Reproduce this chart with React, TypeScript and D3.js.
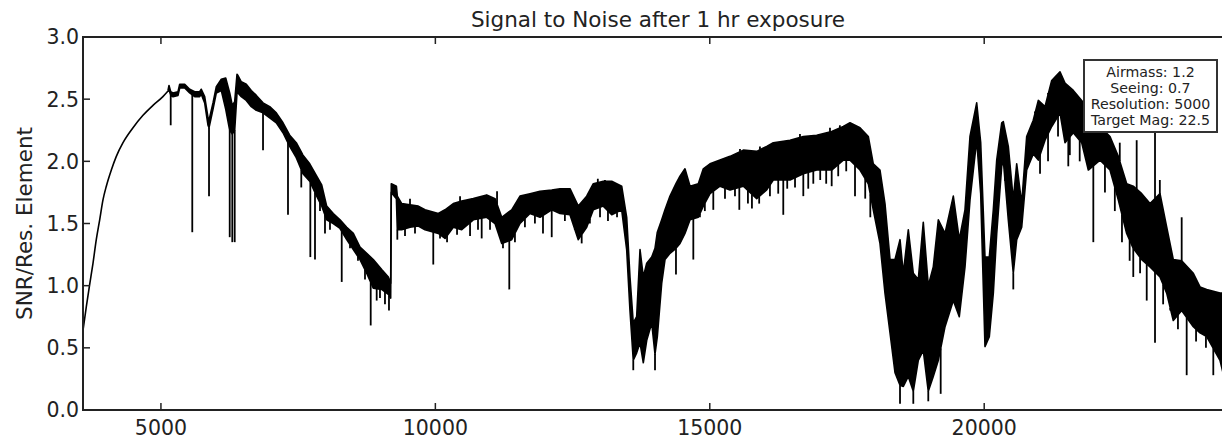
import React from 'react';
import * as d3 from 'd3';

// Smooth blue-end rise: [wavelength, SNR]
const rise: [number, number][] = [
  [3580, 0.64], [3640, 0.83], [3702, 1.01], [3762, 1.18], [3822, 1.37], [3884, 1.53],
  [3944, 1.69], [4005, 1.80], [4096, 1.93], [4187, 2.04], [4309, 2.15], [4491, 2.27],
  [4673, 2.37], [4855, 2.45], [5036, 2.52], [5129, 2.565],
];

// Spectrum envelope: [wavelength, upper SNR, lower SNR]
const envelope: [number, number, number][] = [
  [5129, 2.57, 2.56], [5147, 2.61, 2.58],
  [5178, 2.56, 2.53], [5220, 2.55, 2.52], [5311, 2.56, 2.53], [5342, 2.62, 2.59],
  [5433, 2.62, 2.59], [5524, 2.58, 2.55], [5615, 2.56, 2.52], [5706, 2.56, 2.52],
  [5735, 2.58, 2.54], [5797, 2.52, 2.47], [5858, 2.35, 2.29], [5876, 2.33, 2.27],
  [5949, 2.47, 2.42], [6009, 2.60, 2.55], [6100, 2.66, 2.57], [6180, 2.67, 2.42],
  [6253, 2.55, 2.25], [6300, 2.45, 2.22], [6344, 2.48, 2.25], [6386, 2.70, 2.55],
  [6404, 2.69, 2.55], [6464, 2.64, 2.52], [6555, 2.62, 2.49], [6646, 2.57, 2.44],
  [6738, 2.53, 2.41], [6860, 2.47, 2.39], [6982, 2.44, 2.35], [7102, 2.39, 2.31],
  [7224, 2.31, 2.23], [7346, 2.21, 2.12], [7466, 2.15, 2.03], [7588, 2.05, 1.90],
  [7711, 1.98, 1.84], [7838, 1.88, 1.72], [7929, 1.81, 1.64], [8020, 1.64, 1.53],
  [8140, 1.58, 1.50], [8263, 1.53, 1.46], [8385, 1.47, 1.37], [8505, 1.42, 1.29],
  [8627, 1.31, 1.21], [8749, 1.26, 1.10], [8869, 1.21, 0.98], [9022, 1.13, 0.97],
  [9143, 1.07, 0.93], [9186, 1.02, 0.90], [9197, 1.82, 1.75], [9290, 1.80, 1.70],
  [9307, 1.72, 1.45], [9387, 1.66, 1.45], [9538, 1.65, 1.47], [9689, 1.64, 1.48],
  [9811, 1.61, 1.45], [10054, 1.58, 1.42], [10176, 1.61, 1.38], [10327, 1.66, 1.47],
  [10480, 1.68, 1.45], [10691, 1.70, 1.53], [10935, 1.73, 1.55], [11087, 1.70, 1.50],
  [11209, 1.55, 1.34], [11391, 1.61, 1.37], [11542, 1.72, 1.50], [11724, 1.74, 1.58],
  [11907, 1.76, 1.55], [12120, 1.77, 1.61], [12271, 1.78, 1.58], [12453, 1.78, 1.57],
  [12604, 1.64, 1.37], [12757, 1.72, 1.47], [12878, 1.82, 1.61], [13060, 1.84, 1.64],
  [13213, 1.84, 1.57], [13395, 1.80, 1.61], [13486, 1.55, 1.29], [13546, 1.07, 0.80],
  [13606, 0.70, 0.40], [13668, 0.75, 0.46], [13729, 1.29, 0.54], [13789, 1.07, 0.38],
  [13851, 1.18, 0.56], [13942, 1.23, 0.70], [14002, 1.30, 0.45], [14044, 1.43, 0.59],
  [14124, 1.53, 1.02], [14184, 1.61, 1.21], [14275, 1.72, 1.26], [14384, 1.82, 1.30],
  [14457, 1.88, 1.34], [14548, 1.94, 1.42], [14640, 1.80, 1.53], [14791, 1.82, 1.55],
  [14882, 1.94, 1.64], [15004, 1.98, 1.74], [15186, 2.01, 1.80], [15368, 2.04, 1.77],
  [15611, 2.09, 1.80], [15855, 2.08, 1.70], [16037, 2.12, 1.77], [16157, 2.15, 1.85],
  [16462, 2.17, 1.85], [16704, 2.20, 1.90], [16948, 2.21, 1.93], [17221, 2.24, 1.93],
  [17433, 2.28, 2.01], [17555, 2.31, 2.01], [17737, 2.27, 1.93], [17888, 2.20, 1.82],
  [17979, 1.98, 1.61], [18101, 1.93, 1.34], [18192, 1.66, 0.94], [18284, 1.21, 0.62],
  [18375, 1.21, 0.30], [18466, 1.37, 0.20], [18526, 1.10, 0.19], [18617, 1.45, 0.27],
  [18708, 1.10, 0.15], [18799, 1.05, 0.40], [18890, 1.51, 0.48], [18981, 1.00, 0.15],
  [19072, 1.15, 0.27], [19164, 1.53, 0.40], [19286, 1.42, 0.67], [19437, 1.72, 0.88],
  [19546, 1.37, 0.75], [19650, 1.61, 1.15], [19741, 2.20, 1.69], [19863, 2.47, 2.17],
  [19936, 2.15, 1.74], [20014, 1.23, 0.51], [20093, 1.23, 0.59], [20166, 1.61, 0.94],
  [20228, 2.01, 1.42], [20319, 2.31, 1.96], [20348, 2.32, 2.01], [20439, 2.12, 1.53],
  [20530, 1.69, 1.10], [20592, 1.98, 1.37], [20683, 1.66, 1.47], [20774, 2.20, 1.93],
  [20894, 2.33, 2.06], [20986, 2.49, 2.01], [21108, 2.44, 2.17], [21230, 2.65, 2.28],
  [21381, 2.72, 2.39], [21472, 2.63, 2.15], [21623, 2.57, 2.23], [21776, 2.49, 2.15],
  [21897, 2.41, 1.93], [22110, 2.28, 2.01], [22292, 2.20, 1.93], [22443, 2.04, 1.69],
  [22596, 1.82, 1.42], [22716, 1.80, 1.30], [22870, 1.74, 1.21], [23021, 1.66, 1.15],
  [23203, 1.74, 1.07], [23325, 1.47, 0.94], [23445, 1.21, 0.72], [23598, 1.20, 0.80],
  [23810, 1.10, 0.67], [23932, 0.99, 0.62], [24054, 0.97, 0.59], [24296, 0.94, 0.40],
  [24400, 0.94, 0.21],
];

// Narrow absorption dips below the band: [wavelength, lowest SNR]
const dips: [number, number][] = [
  [5178, 2.29], [5571, 1.43], [5876, 1.72], [6253, 1.39], [6300, 1.35], [6344, 1.35],
  [6860, 2.09], [7315, 1.57], [7557, 1.79], [7722, 1.23], [7807, 1.21], [7898, 1.60],
  [7989, 1.42], [8080, 1.45], [8294, 1.03], [8445, 1.30], [8590, 1.20], [8718, 1.05],
  [8822, 0.68], [8931, 0.88], [8991, 0.90], [9082, 0.85], [9155, 0.80], [9307, 1.37],
  [9447, 1.40], [9629, 1.42], [9962, 1.17], [10085, 1.38], [10213, 1.35], [10395, 1.41],
  [10632, 1.40], [10777, 1.45], [10844, 1.38], [10996, 1.45], [11232, 1.30],
  [11347, 0.97], [11450, 1.35], [11632, 1.47], [11814, 1.50], [11961, 1.42],
  [12120, 1.39], [12360, 1.52], [12540, 1.45], [12666, 1.34], [12815, 1.50],
  [13000, 1.55], [13145, 1.52], [13310, 1.55], [13606, 0.32], [14002, 0.32],
  [14384, 1.09], [14700, 1.21], [14820, 1.55], [14910, 1.60], [15064, 1.61],
  [15277, 1.70], [15459, 1.72], [15538, 1.61], [15695, 1.66], [15768, 1.62],
  [15900, 1.66], [16096, 1.72], [16247, 1.74], [16339, 1.57], [16411, 1.78],
  [16553, 1.79], [16704, 1.72], [16794, 1.78], [16886, 1.82], [17012, 1.85],
  [17121, 1.82], [17221, 1.80], [17340, 1.88], [17486, 1.92], [17646, 1.72],
  [17832, 1.70], [17925, 1.55], [18466, 0.05], [18708, 0.05], [18981, 0.07],
  [19207, 0.13], [20380, 1.90], [20530, 0.97], [21017, 1.90], [21163, 2.00],
  [21345, 2.20], [21532, 1.96], [21560, 2.05], [21740, 2.00], [21988, 1.35],
  [22200, 1.75], [22380, 1.60], [22510, 1.35], [22650, 1.20], [22716, 1.07],
  [22840, 1.10], [22961, 0.88], [23112, 0.54], [23260, 0.85], [23390, 0.80],
  [23530, 0.65], [23689, 0.28], [23860, 0.55], [24040, 0.50], [24174, 0.28],
];

// Narrow upward spikes above the band: [wavelength, highest SNR]
const peaks: [number, number][] = [
  [9538, 1.70], [10450, 1.72], [11124, 1.76], [12960, 1.86], [13090, 1.85],
  [15550, 2.10], [15914, 2.12], [16643, 2.22], [17190, 2.27], [17370, 2.29],
  [20925, 2.40], [21163, 2.55], [22470, 2.15], [22778, 2.17], [23112, 2.40],
  [23200, 1.85], [23598, 1.55],
];

const xTicks = [5000, 10000, 15000, 20000];
const yTicks = [0, 0.5, 1.0, 1.5, 2.0, 2.5, 3.0];
const titleText = 'Signal to Noise after 1 hr exposure';
const yLabel = 'SNR/Res. Element';
const infoLines = ['Airmass: 1.2', 'Seeing: 0.7', 'Resolution: 5000', 'Target Mag: 22.5'];

const FONT = 'DejaVu Sans, sans-serif';

export default function App() {
  const W = 1222, H = 439;
  const L = 83, R = 1233, T = 37, B = 410;
  const x = d3.scaleLinear().domain([3580, 24533]).range([L, R]);
  const y = d3.scaleLinear().domain([0, 3]).range([B, T]);

  const area = d3.area<[number, number, number]>()
    .x(d => x(d[0])).y0(d => y(d[2])).y1(d => y(d[1]));
  const hiLine = d3.line<[number, number, number]>().x(d => x(d[0])).y(d => y(d[1]));
  const loLine = d3.line<[number, number, number]>().x(d => x(d[0])).y(d => y(d[2]));
  const riseLine = d3.line<[number, number]>().x(d => x(d[0])).y(d => y(d[1])).curve(d3.curveMonotoneX);

  const waves = envelope.map(d => d[0]);
  const interp = (w: number, k: 1 | 2) => {
    const i = Math.max(1, Math.min(envelope.length - 1, d3.bisectLeft(waves, w)));
    const a = envelope[i - 1], b = envelope[i];
    const t = (w - a[0]) / (b[0] - a[0] || 1);
    return a[k] + (b[k] - a[k]) * Math.max(0, Math.min(1, t));
  };

  const boxX0 = 1084, boxX1 = 1217, boxY0 = 60, boxY1 = 132;
  const boxCx = (boxX0 + boxX1) / 2;

  return (
    <svg width={W} height={H} style={{ position: 'absolute', left: 0, top: 0, background: '#fff' }}
      fontFamily={FONT}>
      <defs>
        <clipPath id="plotclip"><rect x={L} y={T} width={R - L} height={B - T} /></clipPath>
      </defs>
      <rect x={0} y={0} width={W} height={H} fill="#fff" />
      <g clipPath="url(#plotclip)">
        <path d={riseLine(rise) || ''} fill="none" stroke="#000" strokeWidth={1.6} />
        <path d={area(envelope) || ''} fill="#000" stroke="none" />
        <path d={hiLine(envelope) || ''} fill="none" stroke="#000" strokeWidth={1.6} strokeLinejoin="round" />
        <path d={loLine(envelope) || ''} fill="none" stroke="#000" strokeWidth={1.6} strokeLinejoin="round" />
        {dips.map(([w, v], i) => (
          <line key={'d' + i} x1={x(w)} x2={x(w)} y1={y(interp(w, 2))} y2={y(v)} stroke="#000" strokeWidth={1.8} />
        ))}
        {peaks.map(([w, v], i) => (
          <line key={'p' + i} x1={x(w)} x2={x(w)} y1={y(interp(w, 1))} y2={y(v)} stroke="#000" strokeWidth={1.8} />
        ))}
      </g>
      <rect x={L} y={T} width={R - L} height={B - T} fill="none" stroke="#222" strokeWidth={2} />
      {xTicks.map(t => (
        <g key={'x' + t}>
          <line x1={x(t)} x2={x(t)} y1={B} y2={B - 7} stroke="#222" strokeWidth={1.5} />
          <line x1={x(t)} x2={x(t)} y1={T} y2={T + 7} stroke="#222" strokeWidth={1.5} />
          <text x={x(t)} y={435} textAnchor="middle" fontSize={20.5} fill="#222">{t}</text>
        </g>
      ))}
      {yTicks.map(t => (
        <g key={'y' + t}>
          <line x1={L} x2={L + 7} y1={y(t)} y2={y(t)} stroke="#222" strokeWidth={1.5} />
          <text x={79} y={y(t)} dy="0.36em" textAnchor="end" fontSize={20.5} fill="#222">{t.toFixed(1)}</text>
        </g>
      ))}
      <text x={658} y={27} textAnchor="middle" fontSize={21.5} fill="#222">{titleText}</text>
      <text transform={`translate(32, ${(T + B) / 2}) rotate(-90)`} textAnchor="middle" fontSize={21.5} fill="#222">{yLabel}</text>
      <rect x={boxX0} y={boxY0} width={boxX1 - boxX0} height={boxY1 - boxY0} fill="#fff" stroke="#333" strokeWidth={2} />
      {infoLines.map((s, i) => (
        <text key={s} x={boxCx} y={77 + i * 16} textAnchor="middle" fontSize={14.2} fill="#222">{s}</text>
      ))}
    </svg>
  );
}
